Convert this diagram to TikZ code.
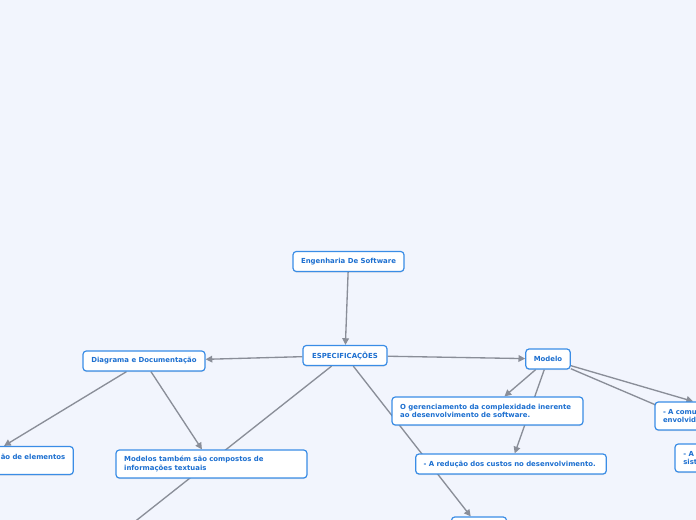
\documentclass[tikz,border=0pt]{standalone}
\usepackage{fontspec}
\setmainfont{DejaVu Sans}
\usepackage{tikz}
\usetikzlibrary{arrows.meta,backgrounds,shadows}
\definecolor{pagebg}{HTML}{F2F5FD}
\definecolor{boxline}{HTML}{3A8DE6}
\definecolor{boxtext}{HTML}{1C6FD0}
\definecolor{edgegray}{HTML}{8A8E98}
\tikzset{
  topic/.style={
    draw=boxline,
    rounded corners=2.5pt,
    line width=0.9pt,
    fill=white,
    text=boxtext,
    font=\bfseries\fontsize{5.2}{6.2}\selectfont,
    minimum height=15pt,
    inner xsep=6pt,
    inner ysep=2pt,
    align=center,
    drop shadow={shadow xshift=0pt, shadow yshift=-0.8pt, opacity=0.2}
  },
  wide topic/.style={topic, align=left, minimum height=21pt},
  link/.style={-{Triangle[length=5pt,width=5pt]}, line width=1pt, draw=edgegray},
  plain link/.style={line width=1pt, draw=edgegray}
}

\begin{document}
\begin{tikzpicture}[x=0.75pt, y=-0.75pt]
  \path[use as bounding box] (0,0) rectangle (696,520);

  % central topics
  \node[topic, minimum width=83.25pt] (eng) at (348.5,261.5) {Engenharia De Software};
  \node[topic, minimum width=63pt] (spec) at (345,355.5) {ESPECIFICAÇÕES};
  \node[topic, minimum width=91.5pt] (diag) at (144,361) {Diagrama e Documentação};
  \node[topic, minimum width=33pt] (modelo) at (548,359) {Modelo};

  % children of Diagrama e Documentação
  \node[wide topic, minimum width=140pt, text width=128pt, align=right] (elem) at (-20,460.5)
    {ão de elementos\\\mbox{}};
  \node[wide topic, minimum width=143.25pt, text width=131pt] (modtxt) at (211.5,464)
    {Modelos também são compostos de\\informações textuais};

  % children of Modelo
  \node[wide topic, minimum width=143.25pt, text width=131pt] (ger) at (487.5,411)
    {O gerenciamento da complexidade inerente\\ao desenvolvimento de software.};
  \node[topic, minimum width=142.5pt, text width=131pt, align=left] (red) at (511,464)
    {- A redução dos custos no desenvolvimento.};
  \node[wide topic, minimum width=132pt, text width=120pt] (comu) at (743,416)
    {- A comunicação entre as pessoas\\envolvidas.};
  \node[wide topic, minimum width=157.5pt, text width=145pt] (sist) at (780,458)
    {- A predição do comportamento futuro do\\sistema.};

  % lower topics, cut by the page
  \node[topic, minimum width=41.25pt] (bot) at (479,527) {};
  \coordinate (far) at (61,580);

  \begin{scope}[on background layer]
    \fill[pagebg] (0,0) rectangle (696,520);
    \draw[link] (eng) -- (spec);
    \draw[link] (spec) -- (diag);
    \draw[link] (spec) -- (modelo);
    \draw[plain link] (spec) -- (far);
    \draw[link] (spec) -- (bot);
    \draw[link] (diag) -- (elem);
    \draw[link] (diag) -- (modtxt);
    \draw[link] (modelo) -- (ger);
    \draw[link] (modelo) -- (red);
    \draw[link] (modelo) -- (comu);
    \draw[link] (modelo) -- (sist);
  \end{scope}
\end{tikzpicture}
\end{document}
